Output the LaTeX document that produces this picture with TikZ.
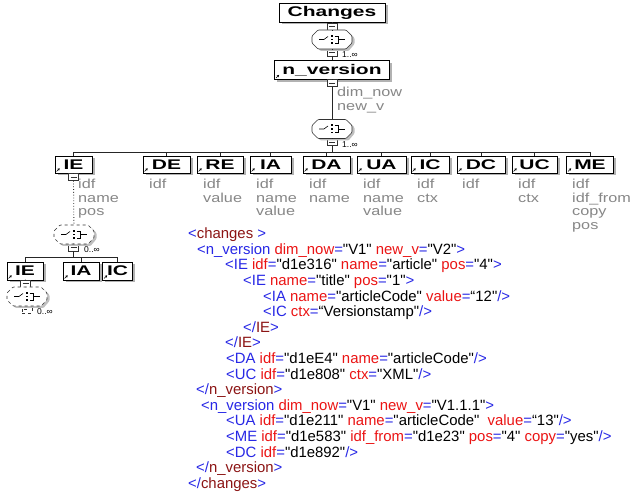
\documentclass[tikz,border=0pt]{standalone}
\usepackage{fontspec}
\setmainfont{Liberation Sans}
\newfontfamily\xmlfont{Liberation Sans}
\newfontfamily\boxfont[FakeStretch=1.5]{Liberation Sans Bold}
\newfontfamily\attrfont[FakeStretch=1.25]{Liberation Sans}
\usetikzlibrary{shadows, arrows.meta, positioning}
\definecolor{tagblue}{RGB}{40,40,230}
\definecolor{attred}{RGB}{235,20,20}
\definecolor{endred}{RGB}{140,20,20}
\definecolor{attrgray}{RGB}{135,135,135}

\tikzstyle{elem} = [rectangle, draw=black, fill=white, line width=0.8pt,
minimum height=17pt, inner sep=1pt,
font=\boxfont\fontsize{14}{14}\selectfont,
drop shadow={shadow xshift=2.5pt, shadow yshift=-2.5pt, opacity=1, fill=black!30}]
\tikzstyle{minus} = [rectangle, draw=black!80, fill=white, line width=0.5pt,
minimum width=10pt, minimum height=7pt, inner sep=0pt,
path picture={\draw[line width=0.5pt] ([xshift=2pt]path picture bounding box.west) -- ([xshift=-2pt]path picture bounding box.east);}]
\tikzstyle{seq} = [rectangle, minimum width=40pt, minimum height=19pt, inner sep=0pt]
\tikzstyle{attr} = [anchor=north west, inner sep=0pt, align=left, text=attrgray,
font=\attrfont\fontsize{13}{13.5}\selectfont]
\tikzstyle{card} = [anchor=west, inner sep=0pt, font=\fontsize{8.5}{9}\selectfont]
\tikzstyle{xml} = [anchor=west, inner sep=0pt, text height=10.5pt, text depth=3pt, font=\xmlfont\fontsize{14.9}{15}\selectfont]
\tikzstyle{line} = [line width=0.8pt, black!85]

\newcommand\xo[1]{\textcolor{tagblue}{<#1}}
\newcommand\xa[2]{\textcolor{attred}{#1}\textcolor{tagblue}{=}#2}
\newcommand\xe{\textcolor{tagblue}{>}}
\newcommand\xse{\textcolor{tagblue}{/>}}
\newcommand\xc[1]{\textcolor{tagblue}{</}\textcolor{endred}{#1}\textcolor{tagblue}{>}}

\begin{document}
\begin{tikzpicture}[x=1pt, y=-1pt]

\fill[white] (0,0) rectangle (638,497);
\useasboundingbox (0,0) rectangle (638,497);

\node (chg) [elem, minimum width=106pt, minimum height=19pt] at (332,12.5) {Changes};
\node (m1) [minus] at (332,26.5) {};
\node (s1) [seq] at (332,39.5) {};
\node (m2) [minus] at (332,52.5) {};
\node (c1) [card] at (342,55) {1..∞};
\node (nver) [elem, minimum width=115pt, minimum height=19pt] at (332,70) {n\_version};
\node (m3) [minus] at (332,83) {};
\node (a0) [attr] at (337,87) {dim\_now\\new\_v};
\node (s2) [seq] at (332,129) {};
\node (m4) [minus] at (332,142) {};
\node (c2) [card] at (342,144.5) {1..∞};
\coordinate (bar) at (332,152);

\node (IE) [elem, minimum width=37pt] at (73.5,164.5) {IE};
\node (DE) [elem, minimum width=47pt] at (166.5,164.5) {DE};
\node (RE) [elem, minimum width=46pt] at (220,164.5) {RE};
\node (IA) [elem, minimum width=41pt] at (270.5,164.5) {IA};
\node (DA) [elem, minimum width=47pt] at (326.5,164.5) {DA};
\node (UA) [elem, minimum width=49pt] at (381.5,164.5) {UA};
\node (IC) [elem, minimum width=38pt] at (430,164.5) {IC};
\node (DC) [elem, minimum width=48pt] at (481,164.5) {DC};
\node (UC) [elem, minimum width=45pt] at (534.5,164.5) {UC};
\node (ME) [elem, minimum width=47pt] at (590,164.5) {ME};

\node (aIE) [attr] at (78,179) {idf\\name\\pos};
\node (aDE) [attr] at (149,179) {idf};
\node (aRE) [attr] at (203,179) {idf\\value};
\node (aIA) [attr] at (256,179) {idf\\name\\value};
\node (aDA) [attr] at (309,179) {idf\\name};
\node (aUA) [attr] at (363,179) {idf\\name\\value};
\node (aIC) [attr] at (417,179) {idf\\ctx};
\node (aDC) [attr] at (462,179) {idf};
\node (aUC) [attr] at (518,179) {idf\\ctx};
\node (aME) [attr] at (572,179) {idf\\idf\_from\\copy\\pos};

\node (m5) [minus] at (73.5,177) {};
\node (s3) [seq] at (74,234.5) {};
\node (m6) [minus] at (73.5,247.5) {};
\node (c3) [card] at (84,250) {0..∞};
\coordinate (bar2) at (73.5,257);

\node (IE2) [elem, minimum width=36pt, minimum height=18pt] at (25,271) {IE};
\node (IA2) [elem, minimum width=36pt, minimum height=18pt] at (81,271) {IA};
\node (IC2) [elem, minimum width=30pt, minimum height=18pt] at (117.5,271) {IC};
\node (m7) [minus] at (25.5,283.5) {};
\node (s4) [seq] at (27,296.5) {};
\node (m8) [minus, dashed] at (27,309.5) {};
\node (c4) [card] at (37,312) {0..∞};

\foreach \s/\st in {s1/solid,s2/solid,s3/dashed,s4/dashed}{
  \begin{scope}[shift={(\s.center)}]
    \fill [black!25, rounded corners=1pt] (-17.5,-6.5) -- (-11.5,-7.5) -- (16.5,-7.5) -- (22.5,-1.5) -- (22.5,4.5) -- (16.5,11.5) -- (-11.5,11.5) -- (-17.5,4.5) -- cycle;
    \filldraw [fill=white, draw=black!80, line width=0.6pt, \st, rounded corners=1pt] (-20,-3.5) -- (-14,-9.5) -- (14,-9.5) -- (20,-3.5) -- (20,3.5) -- (14,9.5) -- (-14,9.5) -- (-20,3.5) -- cycle;
    \draw [line width=0.6pt] (-13,0) -- (-8,0) -- (-4,-3);
    \fill (-0.9,-4.5) rectangle ++(1.8,1.8);
    \fill (-0.9,-0.9) rectangle ++(1.8,1.8);
    \fill (-0.9,2.7) rectangle ++(1.8,1.8);
    \draw [line width=0.6pt] (2.5,-3.5) -- (6.5,-3.5) -- (6.5,3.5) -- (2.5,3.5);
    \draw [line width=0.6pt] (6.5,0) -- (13,0);
  \end{scope}
}

\draw [line] (chg) -- (m1) -- (s1) -- (m2) -- (nver) -- (m3) -- (s2) -- (m4) -- (bar);
\foreach \n in {IE,DE,RE,IA,DA,UA,IC,DC,UC,ME}
  \draw [line] (bar) -| (\n);
\draw [line] (IE) -- (m5);
\draw [line, dotted] (m5) -- (s3);
\draw [line] (s3) -- (m6) -- (bar2);
\foreach \n in {IE2,IA2,IC2}
  \draw [line] (bar2) -| (\n);
\draw [line] (IE2) -- (m7) -- (s4);

\foreach \n in {nver,IE,DE,RE,IA,DA,UA,IC,DC,UC,ME,IE2,IA2,IC2}
  \draw [-{Stealth[length=2.2pt,width=2.6pt]}, line width=0.7pt] ([xshift=2pt,yshift=2pt]\n.south west) -- ++(3pt,3pt);

\node (x0) [xml] at (188,235) {\textcolor{tagblue}{<}\textcolor{endred}{changes} \textcolor{tagblue}{>}};
\node (x1) [xml] at (197,250.6) {\xo{n\_version} \xa{dim\_now}{"V1"} \xa{new\_v}{"V2"}\xe};
\node (x2) [xml] at (225,266.2) {\xo{IE} \xa{idf}{"d1e316"} \xa{name}{"article"} \xa{pos}{"4"}\xe};
\node (x3) [xml] at (243,281.8) {\xo{IE} \xa{name}{"title"} \xa{pos}{"1"}\xe};
\node (x4) [xml] at (263,297.4) {\xo{IA} \xa{name}{"articleCode"} \xa{value}{“12"}\xse};
\node (x5) [xml] at (263,313) {\xo{IC} \xa{ctx}{“Versionstamp"}\xse};
\node (x6) [xml] at (243,328.6) {\xc{IE}};
\node (x7) [xml] at (225,344.2) {\xc{IE}};
\node (x8) [xml] at (226,359.8) {\xo{DA} \xa{idf}{"d1eE4"} \xa{name}{"articleCode"}\xse};
\node (x9) [xml] at (226,375.4) {\xo{UC} \xa{idf}{"d1e808"} \xa{ctx}{"XML"}\xse};
\node (x10) [xml] at (196,391) {\xc{n\_version}};
\node (x11) [xml] at (201,406.6) {\xo{n\_version} \xa{dim\_now}{"V1"} \xa{new\_v}{"V1.1.1"}\xe};
\node (x12) [xml] at (226,422.2) {\xo{UA} \xa{idf}{"d1e211"} \xa{name}{"articleCode"}\ \ \xa{value}{“13"}\xse};
\node (x13) [xml] at (226,437.8) {\xo{ME} \xa{idf}{"d1e583"} \xa{idf\_from}{"d1e23"} \xa{pos}{"4"} \xa{copy}{"yes"}\xse};
\node (x14) [xml] at (226,453.4) {\xo{DC} \xa{idf}{"d1e892"}\xse};
\node (x15) [xml] at (196,469) {\xc{n\_version}};
\node (x16) [xml] at (188,484.6) {\xc{changes}};

\end{tikzpicture}
\end{document}
